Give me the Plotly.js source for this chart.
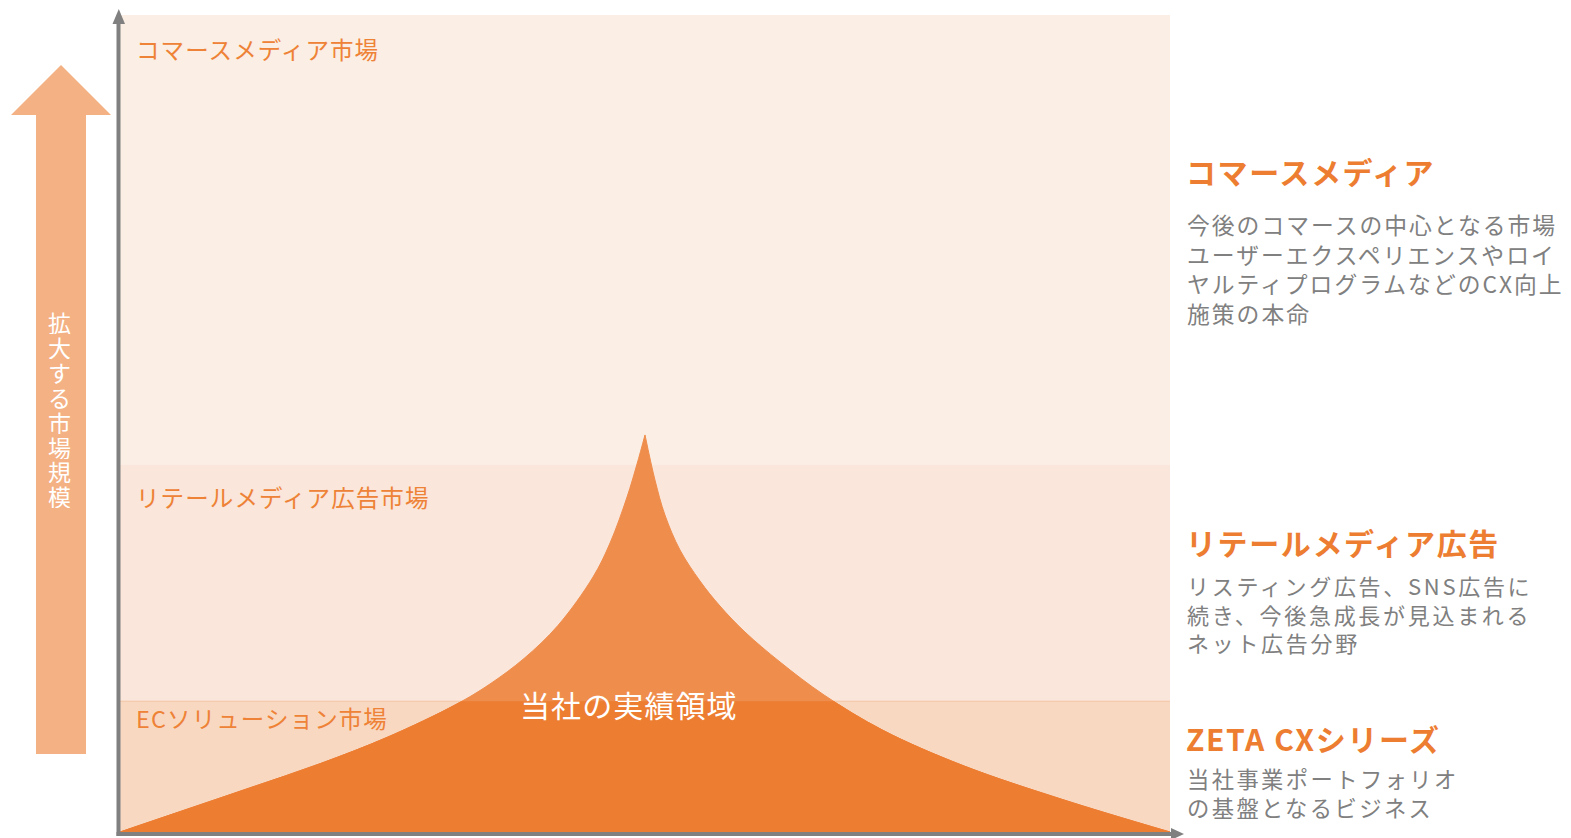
<!DOCTYPE html>
<html>
<head>
<meta charset="utf-8">
<script src="https://cdn.plot.ly/plotly-3.0.1.min.js"></script>
<style>
  html, body { margin: 0; padding: 0; background: #ffffff; }
  #chart { width: 1571px; height: 838px; }
</style>
</head>
<body>
<div id="chart"></div>
<script>
// ---------------- data ----------------
// Market bands (bottom -> top), upper bound of each band on the 0-100 "market size" scale
const bandNames   = ['ECソリューション市場', 'リテールメディア広告市場', 'コマースメディア市場'];
const bandTops    = [16, 45, 100];
const bandColors  = ['#F9D8C2', '#FAE6DA', '#FBEEE4'];

// Company's track-record area: a cusp-shaped curve (left flank and right flank)
const leftX  = [0, 6.0, 12.48, 19.05, 25.52, 32.0, 35.24, 38.48, 41.71, 45.05, 46.67, 48.29, 49.24, 50];
const leftY  = [0, 2.62, 5.45, 8.36, 11.63, 15.61, 18.12, 21.24, 25.28, 31.21, 35.37, 41.0, 45.04, 48.6];
const rightX = [50, 50.95, 51.9, 53.33, 55.24, 57.14, 59.52, 62.86, 67.05, 72.67, 80.29, 89.9, 100];
const rightY = [48.6, 43.08, 38.8, 34.52, 30.72, 27.66, 24.48, 20.81, 16.77, 12.44, 8.13, 3.92, 0];

const areaLabel = '当社の実績領域';
const axisLabel = ['拡', '大', 'す', 'る', '市', '場', '規', '模'];

const sideTitles = ['コマースメディア', 'リテールメディア広告', 'ZETA CXシリーズ'];
const sideDescs = [
  ['今後のコマースの中心となる市場', 'ユーザーエクスペリエンスやロイ', 'ヤルティプログラムなどのCX向上', '施策の本命'],
  ['リスティング広告、SNS広告に', '続き、今後急成長が見込まれる', 'ネット広告分野'],
  ['当社事業ポートフォリオ', 'の基盤となるビジネス']
];

// ---------------- layout helpers ----------------
const W = 1571, H = 838;
const PL = 120, PR = 1170, PT = 15, PB = 832;
const fx = x => (x - PL) / (PR - PL);       // pixel -> paper x
const fy = y => (PB - y) / (PB - PT);       // pixel -> paper y

const ORANGE = '#ED7D31';
const ORANGE_LIGHT = '#EF8D4C';
const LABEL_ORANGE = '#EE8236';
const GREY = '#808080';
const FONT = '"Noto Sans CJK JP", "Noto Sans", sans-serif';

const sp = (t, ls) => '<span style="letter-spacing:' + ls + 'px">' + t + '</span>';

// ---------------- traces ----------------
function flank(xs, ys, color, yaxis) {
  return {
    type: 'scatter', mode: 'lines', x: xs, y: ys, xaxis: 'x', yaxis: yaxis,
    line: { shape: 'spline', smoothing: 1, width: 1, color: color },
    fill: 'tozeroy', fillcolor: color, hoverinfo: 'skip', showlegend: false
  };
}
const traces = [
  flank(leftX, leftY, ORANGE_LIGHT, 'y'),
  flank(rightX, rightY, ORANGE_LIGHT, 'y'),
  flank(leftX, leftY, ORANGE, 'y2'),
  flank(rightX, rightY, ORANGE, 'y2')
];

// ---------------- shapes ----------------
const shapes = [];
let prev = 0;
bandTops.forEach((top, i) => {
  shapes.push({ type: 'rect', xref: 'x', yref: 'y', x0: 0, x1: 100, y0: prev, y1: top,
    fillcolor: bandColors[i], line: { width: 0 }, layer: 'below' });
  prev = top;
});
shapes.push({ type: 'line', xref: 'x', yref: 'y', x0: 0, x1: 100, y0: bandTops[0], y1: bandTops[0],
  line: { color: '#F4C3A2', width: 1 }, layer: 'below' });

// axes with arrowheads
shapes.push({ type: 'line', xref: 'paper', yref: 'paper', x0: fx(118.5), x1: fx(118.5), y0: fy(836), y1: fy(22),
  line: { color: GREY, width: 4 } });
shapes.push({ type: 'path', xref: 'paper', yref: 'paper',
  path: 'M' + fx(112.5) + ',' + fy(24) + ' L' + fx(125) + ',' + fy(24) + ' L' + fx(118.8) + ',' + fy(9) + ' Z',
  fillcolor: GREY, line: { width: 0 } });
shapes.push({ type: 'line', xref: 'paper', yref: 'paper', x0: fx(116.5), x1: fx(1173), y0: fy(834), y1: fy(834),
  line: { color: GREY, width: 4 } });
shapes.push({ type: 'path', xref: 'paper', yref: 'paper',
  path: 'M' + fx(1171) + ',' + fy(828) + ' L' + fx(1171) + ',' + fy(840) + ' L' + fx(1184) + ',' + fy(834) + ' Z',
  fillcolor: GREY, line: { width: 0 } });

// big "growing market" arrow
const arrowPts = [[36, 754], [36, 115], [11, 115], [61, 65], [111, 115], [86, 115], [86, 754]];
shapes.push({ type: 'path', xref: 'paper', yref: 'paper',
  path: 'M' + arrowPts.map(p => fx(p[0]) + ',' + fy(p[1])).join(' L') + ' Z',
  fillcolor: '#F4B183', line: { width: 0 } });

// ---------------- annotations ----------------
const annotations = [];
function addText(text, x, y, size, color, xanchor, bold, boxH) {
  const a = {
    text: bold ? '<b>' + text + '</b>' : text,
    xref: 'paper', yref: 'paper', x: fx(x), y: fy(y),
    xanchor: xanchor || 'left', yanchor: 'middle', align: 'left', showarrow: false, borderpad: 0,
    font: { family: FONT, size: size, color: color }
  };
  if (boxH) a.height = boxH;
  annotations.push(a);
}
// band labels
const bandLabelY = [718, 497, 49];
bandNames.forEach((t, i) => addText(sp(t, 1.1), 135, bandLabelY[i], 23.5, LABEL_ORANGE));

// area label
addText(sp(areaLabel, 1.1), 629, 704, 30, '#FFFFFF', 'center');

// vertical axis label in the arrow
axisLabel.forEach((c, i) => addText(c, 59, 322 + i * 24.9, 23, '#FFFFFF', 'center', false, 24));

// side titles + descriptions (one text block per description)
const titleY = [171, 542, 738];
const descCenterY = [268.5, 613.5, 792.5];
const descSize = [22.8, 22, 22.3];
const descSpacing = [2.0, 2.7, 2.4];
sideTitles.forEach((t, i) => {
  addText(sp(t, 1.6), 1185, titleY[i], 30, ORANGE, 'left', true);
  addText(sideDescs[i].map(l => sp(l, descSpacing[i])).join('<br>'), 1186, descCenterY[i], descSize[i], GREY, 'left');
});

// ---------------- layout ----------------
const layout = {
  width: W, height: H,
  margin: { l: PL, r: W - PR, t: PT, b: H - PB, pad: 0 },
  paper_bgcolor: '#FFFFFF', plot_bgcolor: 'rgba(0,0,0,0)',
  showlegend: false, hovermode: false,
  xaxis: { range: [0, 100], visible: false, fixedrange: true, anchor: 'y' },
  yaxis: { range: [0, 100], domain: [0, 1], visible: false, fixedrange: true, anchor: 'x' },
  yaxis2: { range: [0, bandTops[0]], domain: [0, bandTops[0] / 100], visible: false, fixedrange: true, anchor: 'x' },
  shapes: shapes,
  annotations: annotations
};

Plotly.newPlot('chart', traces, layout, { displayModeBar: false, staticPlot: true });
</script>
</body>
</html>
